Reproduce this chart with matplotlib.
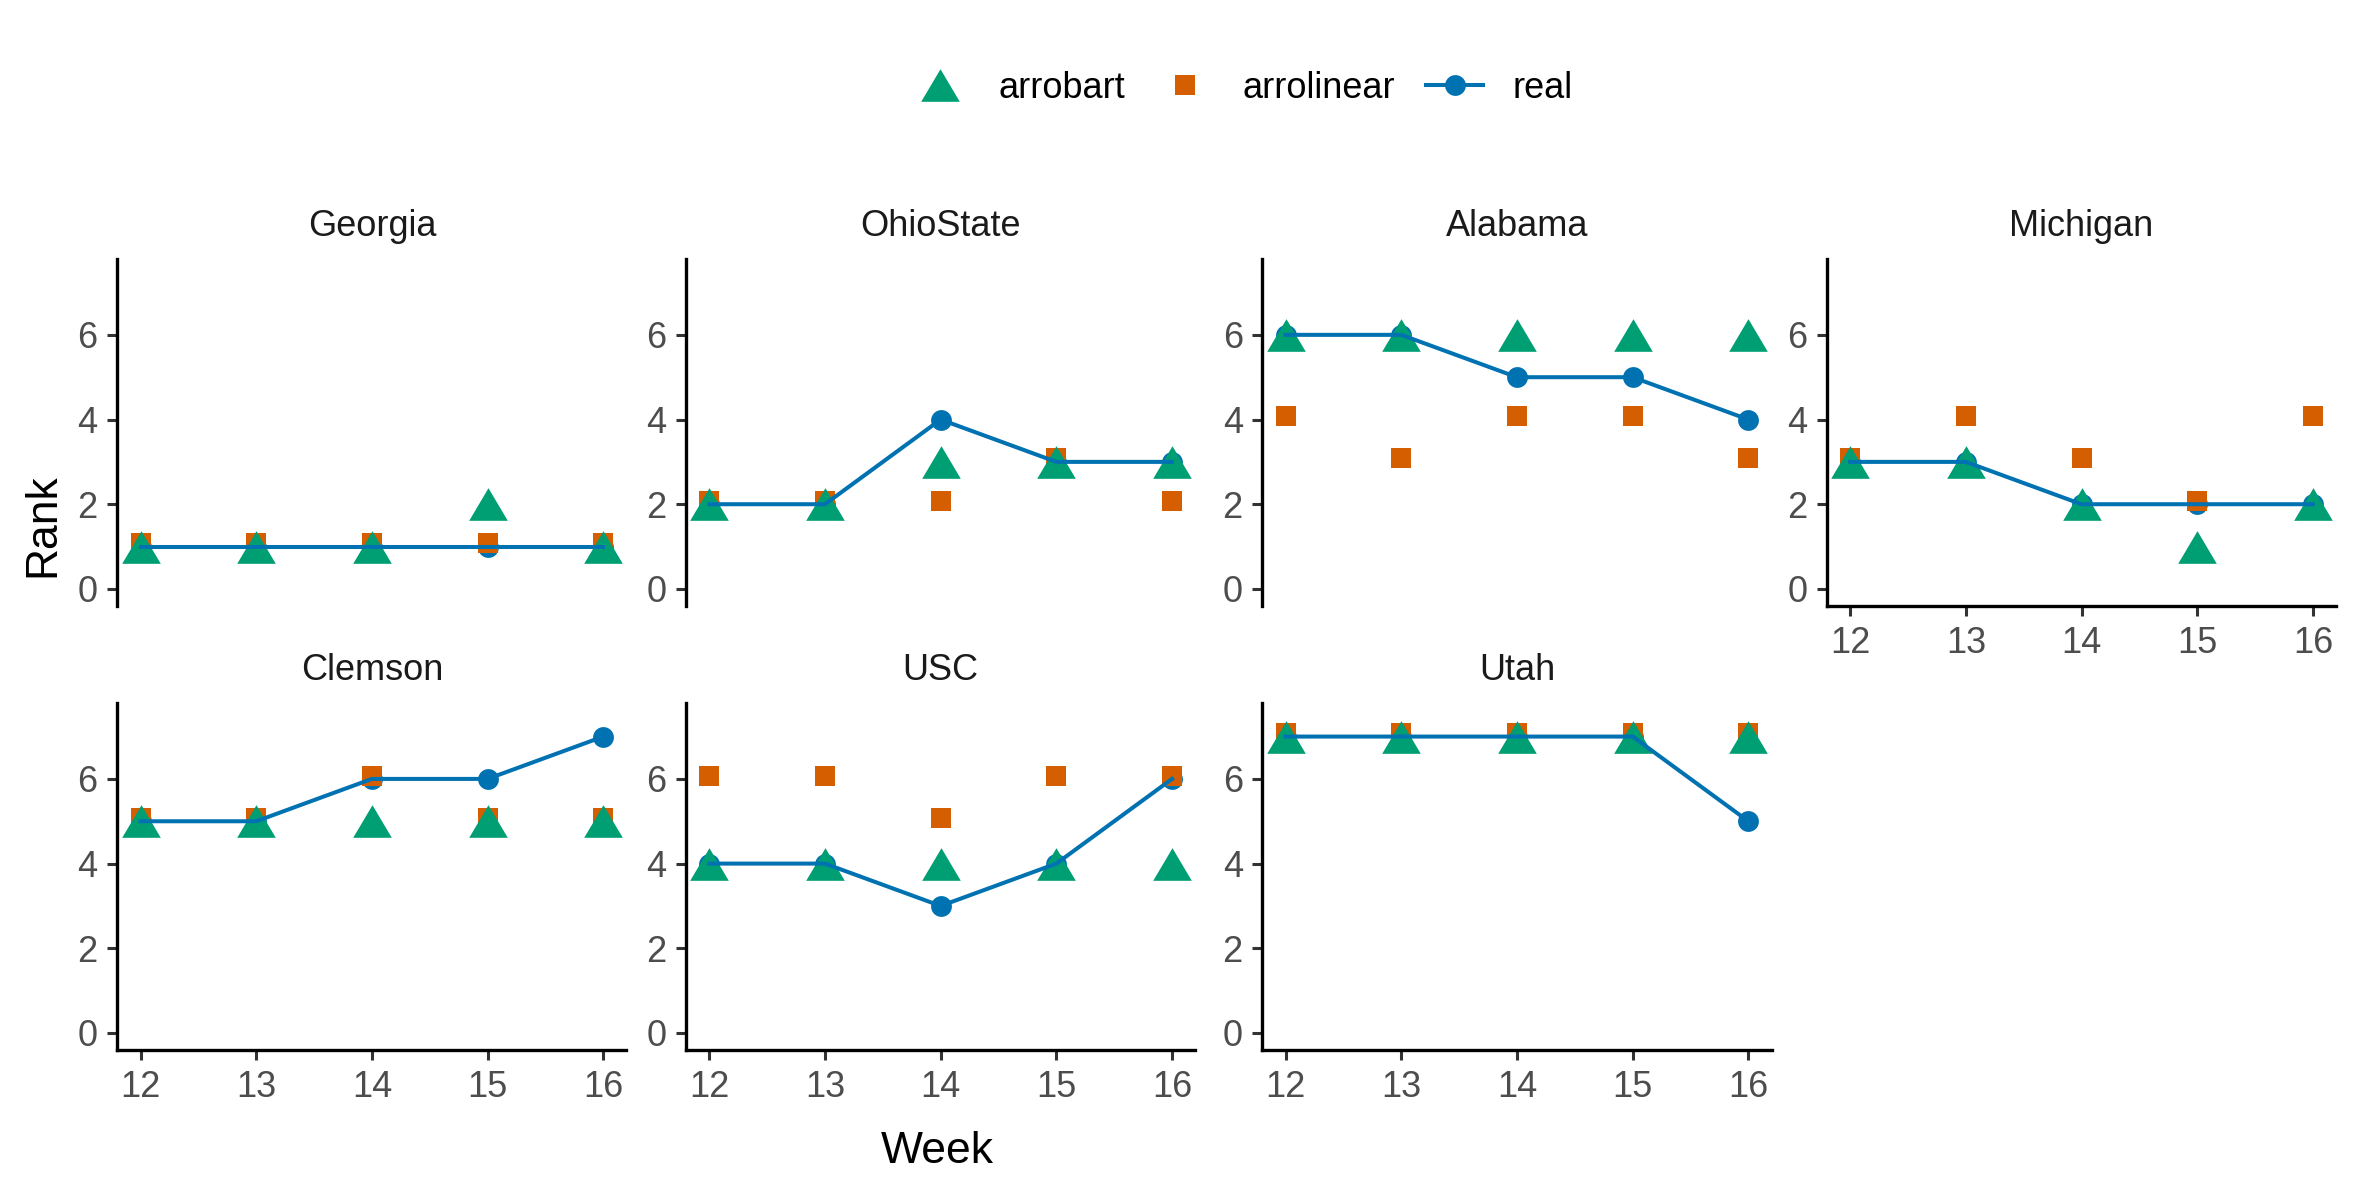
import numpy as np
import matplotlib.pyplot as plt
from matplotlib.lines import Line2D

plt.rcParams['font.family'] = ['Liberation Sans', 'DejaVu Sans']

weeks = [12, 13, 14, 15, 16]
teams = ['Georgia', 'OhioState', 'Alabama', 'Michigan', 'Clemson', 'USC', 'Utah']

real = {
    'Georgia':   [1, 1, 1, 1, 1],
    'OhioState': [2, 2, 4, 3, 3],
    'Alabama':   [6, 6, 5, 5, 4],
    'Michigan':  [3, 3, 2, 2, 2],
    'Clemson':   [5, 5, 6, 6, 7],
    'USC':       [4, 4, 3, 4, 6],
    'Utah':      [7, 7, 7, 7, 5],
}
arrobart = {
    'Georgia':   [1, 1, 1, 2, 1],
    'OhioState': [2, 2, 3, 3, 3],
    'Alabama':   [6, 6, 6, 6, 6],
    'Michigan':  [3, 3, 2, 1, 2],
    'Clemson':   [5, 5, 5, 5, 5],
    'USC':       [4, 4, 4, 4, 4],
    'Utah':      [7, 7, 7, 7, 7],
}
arrolinear = {
    'Georgia':   [1.08, 1.08, 1.08, 1.08, 1.08],
    'OhioState': [2.08, 2.08, 2.08, 3.08, 2.08],
    'Alabama':   [4.08, 3.08, 4.08, 4.08, 3.08],
    'Michigan':  [3.08, 4.08, 3.08, 2.08, 4.08],
    'Clemson':   [5.08, 5.08, 6.08, 5.08, 5.08],
    'USC':       [6.08, 6.08, 5.08, 6.08, 6.08],
    'Utah':      [7.08, 7.08, 7.08, 7.08, 7.08],
}

green = '#009E73'
orange = '#D55E00'
blue = '#0072B2'

# triangle like ggplot shape 17, box centred on the point
tri = [(-1, -0.845), (1, -0.845), (0, 0.845)]
tri_ms = 13.9
sq_ms = 7.5
pt_ms = 7.5
lw_line = 1.45

fig = plt.figure(figsize=(11.81, 5.905), dpi=200)

lefts = [0.0497, 0.2905, 0.5345, 0.7735]
w = 0.2155
bottoms = [0.487, 0.111]
h = 0.294

for i, team in enumerate(teams):
    r, c = divmod(i, 4)
    ax = fig.add_axes([lefts[c], bottoms[r], w, h])
    ax.plot(weeks, real[team], 'o', color=blue, ms=pt_ms, mew=0, zorder=2)
    ax.plot(weeks, arrolinear[team], 's', color=orange, ms=sq_ms, mew=0, zorder=3)
    ax.plot(weeks, arrobart[team], marker=tri, ls='none', color=green, ms=tri_ms, mew=0, zorder=4)
    ax.plot(weeks, real[team], '-', color=blue, lw=lw_line, zorder=5)
    ax.set_xlim(11.8, 16.2)
    ax.set_ylim(-0.4, 7.8)
    ax.set_yticks([0, 2, 4, 6])
    ax.set_xticks(weeks)
    for s in ['top', 'right']:
        ax.spines[s].set_visible(False)
    ax.spines['left'].set_linewidth(1.2)
    ax.spines['bottom'].set_linewidth(1.2)
    ax.tick_params(colors='#333333', labelcolor='#4D4D4D', labelsize=13,
                   length=3.6, width=1.1, pad=3.5)
    show_x = (r == 1) or (i == 3)
    if not show_x:
        ax.spines['bottom'].set_visible(False)
        ax.tick_params(axis='x', bottom=False, labelbottom=False)
    ax.set_title(team, fontsize=13, color='#1A1A1A', pad=8)

fig.text(0.018, 0.555, 'Rank', rotation=90, ha='center', va='center', fontsize=16)
fig.text(0.397, 0.025, 'Week', ha='center', va='center', fontsize=16)

handles = [
    Line2D([], [], marker=tri, ls='none', color=green, ms=tri_ms, mew=0),
    Line2D([], [], marker='s', ls='none', color=orange, ms=sq_ms, mew=0),
    Line2D([], [], marker='o', ls='-', color=blue, ms=pt_ms, mew=0, lw=lw_line),
]
fig.legend(handles, ['arrobart', 'arrolinear', 'real'], loc='center',
           bbox_to_anchor=(0.526, 0.925), ncol=3, frameon=False, fontsize=13,
           handlelength=1.58, handletextpad=0.82, columnspacing=0.85)

fig.savefig('out.png', dpi=200)
